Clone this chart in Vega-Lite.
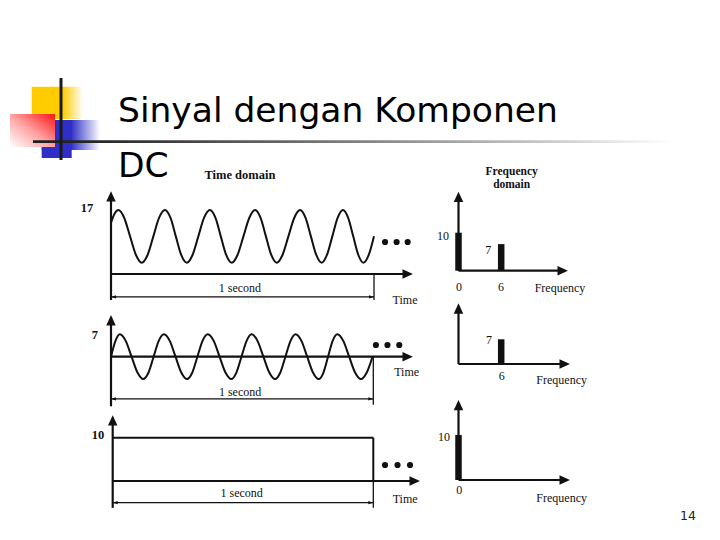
{
"$schema": "https://vega.github.io/schema/vega-lite/v6.json",
"width": 720, "height": 540, "autosize": "none", "padding": 0,
"background": "white",
"config": {"view": {"stroke": null}},
"resolve": {"scale": {"x": "independent", "y": "independent"}},
"layer": [
{
 "data": {"values": [{}]},
 "layer": [
  {"mark": {"type": "rect", "strokeWidth": 0, "fill": {"gradient": "linear", "x1": 0, "y1": 0, "x2": 1, "y2": 0, "stops": [{"offset": 0, "color": "#ffcc00"}, {"offset": 0.6, "color": "#ffcc00"}, {"offset": 1, "color": "#ffffff"}]}},
   "encoding": {"x": {"datum": 31.7, "type": "quantitative", "scale": {"domain": [0, 720], "range": [0, 720], "nice": false, "zero": false}, "axis": null}, "x2": {"datum": 83}, "y": {"datum": 86.7, "type": "quantitative", "scale": {"domain": [0, 540], "range": [0, 540], "nice": false, "zero": false}, "axis": null}, "y2": {"datum": 119}}},
  {"mark": {"type": "rect", "strokeWidth": 0, "fill": {"gradient": "linear", "x1": 0, "y1": 0, "x2": 1, "y2": 0, "stops": [{"offset": 0, "color": "#2f2fc8"}, {"offset": 0.5, "color": "#2f2fc8"}, {"offset": 1, "color": "#ffffff"}]}},
   "encoding": {"x": {"datum": 41.7, "type": "quantitative", "scale": {"domain": [0, 720], "range": [0, 720], "nice": false, "zero": false}, "axis": null}, "x2": {"datum": 100}, "y": {"datum": 120, "type": "quantitative", "scale": {"domain": [0, 540], "range": [0, 540], "nice": false, "zero": false}, "axis": null}, "y2": {"datum": 150}}},
  {"mark": {"type": "rect", "strokeWidth": 0, "fill": "#2f2fc8"},
   "encoding": {"x": {"datum": 41.7, "type": "quantitative", "scale": {"domain": [0, 720], "range": [0, 720], "nice": false, "zero": false}, "axis": null}, "x2": {"datum": 71.7}, "y": {"datum": 120, "type": "quantitative", "scale": {"domain": [0, 540], "range": [0, 540], "nice": false, "zero": false}, "axis": null}, "y2": {"datum": 158}}},
  {"mark": {"type": "rect", "strokeWidth": 0, "fill": {"gradient": "linear", "x1": 1, "y1": 0, "x2": 0, "y2": 1, "stops": [{"offset": 0, "color": "#ff1414"}, {"offset": 0.5, "color": "#ffa0a0"}, {"offset": 1, "color": "#ffffff"}]}},
   "encoding": {"x": {"datum": 10, "type": "quantitative", "scale": {"domain": [0, 720], "range": [0, 720], "nice": false, "zero": false}, "axis": null}, "x2": {"datum": 55}, "y": {"datum": 114, "type": "quantitative", "scale": {"domain": [0, 540], "range": [0, 540], "nice": false, "zero": false}, "axis": null}, "y2": {"datum": 147}}},
  {"mark": {"type": "rect", "strokeWidth": 0, "fill": {"gradient": "linear", "x1": 0, "y1": 0, "x2": 1, "y2": 0, "stops": [{"offset": 0, "color": "#1e1e1e"}, {"offset": 0.12, "color": "#2a2a2a"}, {"offset": 0.55, "color": "#8a8a8a"}, {"offset": 0.8, "color": "#c8c8c8"}, {"offset": 1, "color": "#ffffff"}]}},
   "encoding": {"x": {"datum": 33, "type": "quantitative", "scale": {"domain": [0, 720], "range": [0, 720], "nice": false, "zero": false}, "axis": null}, "x2": {"datum": 672}, "y": {"datum": 140.3, "type": "quantitative", "scale": {"domain": [0, 540], "range": [0, 540], "nice": false, "zero": false}, "axis": null}, "y2": {"datum": 143}}},
  {"mark": {"type": "rule", "color": "#1a1a1a", "strokeWidth": 3},
   "encoding": {"x": {"datum": 61, "type": "quantitative", "scale": {"domain": [0, 720], "range": [0, 720], "nice": false, "zero": false}, "axis": null}, "y": {"datum": 78, "type": "quantitative", "scale": {"domain": [0, 540], "range": [0, 540], "nice": false, "zero": false}, "axis": null}, "y2": {"datum": 160}}},
  {"mark": {"type": "text", "text": "Sinyal dengan Komponen", "font": "DejaVu Sans", "fontSize": 34.5, "align": "left", "baseline": "alphabetic", "color": "#000000"},
   "encoding": {"x": {"datum": 118, "type": "quantitative", "scale": {"domain": [0, 720], "range": [0, 720], "nice": false, "zero": false}, "axis": null}, "y": {"datum": 121.7, "type": "quantitative", "scale": {"domain": [0, 540], "range": [0, 540], "nice": false, "zero": false}, "axis": null}}},
  {"mark": {"type": "text", "text": "DC", "font": "DejaVu Sans", "fontSize": 34.5, "align": "left", "baseline": "alphabetic", "color": "#000000"},
   "encoding": {"x": {"datum": 118, "type": "quantitative", "scale": {"domain": [0, 720], "range": [0, 720], "nice": false, "zero": false}, "axis": null}, "y": {"datum": 176.7, "type": "quantitative", "scale": {"domain": [0, 540], "range": [0, 540], "nice": false, "zero": false}, "axis": null}}},
  {"mark": {"type": "text", "text": "14", "font": "DejaVu Sans", "fontSize": 12.5, "align": "center", "baseline": "middle", "color": "#222222"},
   "encoding": {"x": {"datum": 688, "type": "quantitative", "scale": {"domain": [0, 720], "range": [0, 720], "nice": false, "zero": false}, "axis": null}, "y": {"datum": 516, "type": "quantitative", "scale": {"domain": [0, 540], "range": [0, 540], "nice": false, "zero": false}, "axis": null}}}
 ]
},
{
 "encoding": {
  "x": {"field": "t", "type": "quantitative", "scale": {"domain": [0, 1], "range": [111, 374], "nice": false, "zero": false}, "axis": null},
  "y": {"field": "v", "type": "quantitative", "scale": {"domain": [0, 17], "range": [274, 210], "nice": false, "zero": false}, "axis": null}
 },
 "layer": [
  {"data": {"values": [
   {"t": 0, "v": 13.6}, {"t": 0.014, "v": 16.1}, {"t": 0.028, "v": 17},
   {"t": 0.05, "v": 14.95}, {"t": 0.0725, "v": 10}, {"t": 0.095, "v": 5.05}, {"t": 0.117, "v": 3},
   {"t": 0.139, "v": 5.05}, {"t": 0.161, "v": 10}, {"t": 0.183, "v": 14.95}, {"t": 0.205, "v": 17},
   {"t": 0.226, "v": 14.95}, {"t": 0.2465, "v": 10}, {"t": 0.267, "v": 5.05}, {"t": 0.288, "v": 3},
   {"t": 0.31, "v": 5.05}, {"t": 0.332, "v": 10}, {"t": 0.354, "v": 14.95}, {"t": 0.376, "v": 17},
   {"t": 0.397, "v": 14.95}, {"t": 0.4175, "v": 10}, {"t": 0.438, "v": 5.05}, {"t": 0.459, "v": 3},
   {"t": 0.481, "v": 5.05}, {"t": 0.5035, "v": 10}, {"t": 0.526, "v": 14.95}, {"t": 0.548, "v": 17},
   {"t": 0.5685, "v": 14.95}, {"t": 0.589, "v": 10}, {"t": 0.6095, "v": 5.05}, {"t": 0.63, "v": 3},
   {"t": 0.652, "v": 5.05}, {"t": 0.6745, "v": 10}, {"t": 0.697, "v": 14.95}, {"t": 0.719, "v": 17},
   {"t": 0.7395, "v": 14.95}, {"t": 0.76, "v": 10}, {"t": 0.7805, "v": 5.05}, {"t": 0.801, "v": 3},
   {"t": 0.821, "v": 5.05}, {"t": 0.8415, "v": 10}, {"t": 0.862, "v": 14.95}, {"t": 0.882, "v": 17},
   {"t": 0.9015, "v": 14.95}, {"t": 0.921, "v": 10}, {"t": 0.9405, "v": 5.05}, {"t": 0.96, "v": 3},
   {"t": 0.98, "v": 5.05}, {"t": 1.0, "v": 10}]},
   "mark": {"type": "line", "interpolate": "monotone", "color": "#111111", "strokeWidth": 2}},
  {"data": {"values": [{"t": 0, "v": -6.9, "t2": 0, "v2": 20.7}, {"t": 0, "v": 0, "t2": 1.125, "v2": 0}]},
   "mark": {"type": "rule", "color": "#111111", "strokeWidth": 2.2}, "encoding": {"x2": {"field": "t2"}, "y2": {"field": "v2"}}},
  {"data": {"values": [{"t": 0, "v": -6.1, "t2": 1, "v2": -6.1}, {"t": 1, "v": 0, "t2": 1, "v2": -6.9}]},
   "mark": {"type": "rule", "color": "#111111", "strokeWidth": 1.3}, "encoding": {"x2": {"field": "t2"}, "y2": {"field": "v2"}}},
  {"data": {"values": [{"t": 0, "v": 22}]}, "mark": {"type": "point", "shape": "M0,0L-1,2.2L1,2.2Z", "size": 90, "filled": true, "opacity": 1, "color": "#111111", "strokeWidth": 0}},
  {"data": {"values": [{"t": 1.148, "v": 0}]}, "mark": {"type": "point", "shape": "M0,0L-2.2,-1L-2.2,1Z", "size": 90, "filled": true, "opacity": 1, "color": "#111111", "strokeWidth": 0}},
  {"data": {"values": [{"t": 1, "v": -6.1}]}, "mark": {"type": "point", "shape": "M0,0L-2.5,-0.8L-2.5,0.8Z", "size": 16, "filled": true, "opacity": 1, "color": "#111111", "strokeWidth": 0}},
  {"data": {"values": [{"t": 0, "v": -6.1}]}, "mark": {"type": "point", "shape": "M0,0L2.5,-0.8L2.5,0.8Z", "size": 16, "filled": true, "opacity": 1, "color": "#111111", "strokeWidth": 0}},
  {"data": {"values": [{"t": 1.042, "v": 8.5}, {"t": 1.086, "v": 8.5}, {"t": 1.128, "v": 8.5}]}, "mark": {"type": "point", "shape": "circle", "size": 38, "filled": true, "opacity": 1, "color": "#111111", "strokeWidth": 0}},
  {"data": {"values": [{"t": -0.091, "v": 17.5, "label": "17"}, {"t": 0.49, "v": 26.3, "label": "Time domain"}]},
   "mark": {"type": "text", "font": "Liberation Serif", "fontSize": 12.5, "fontWeight": "bold", "color": "#111111", "align": "center", "baseline": "middle"}, "encoding": {"text": {"field": "label"}}},
  {"data": {"values": [{"t": 0.49, "v": -3.7, "label": "1 second"}, {"t": 1.118, "v": -6.9, "label": "Time"}]},
   "mark": {"type": "text", "font": "Liberation Serif", "fontSize": 12, "color": "#111111", "align": "center", "baseline": "middle"}, "encoding": {"text": {"field": "label"}}}
 ]
},
{
 "encoding": {
  "x": {"field": "t", "type": "quantitative", "scale": {"domain": [0, 1], "range": [111, 373.3], "nice": false, "zero": false}, "axis": null},
  "y": {"field": "v", "type": "quantitative", "scale": {"domain": [0, 7], "range": [356.7, 334.3], "nice": false, "zero": false}, "axis": null}
 },
 "layer": [
  {"data": {"values": [
   {"t": 0, "v": 0}, {"t": 0.017, "v": 4.95}, {"t": 0.034, "v": 7},
   {"t": 0.056, "v": 4.95}, {"t": 0.0785, "v": 0}, {"t": 0.101, "v": -4.95}, {"t": 0.123, "v": -7},
   {"t": 0.143, "v": -4.95}, {"t": 0.1625, "v": 0}, {"t": 0.182, "v": 4.95}, {"t": 0.202, "v": 7},
   {"t": 0.224, "v": 4.95}, {"t": 0.246, "v": 0}, {"t": 0.268, "v": -4.95}, {"t": 0.29, "v": -7},
   {"t": 0.31, "v": -4.95}, {"t": 0.3295, "v": 0}, {"t": 0.349, "v": 4.95}, {"t": 0.369, "v": 7},
   {"t": 0.3915, "v": 4.95}, {"t": 0.414, "v": 0}, {"t": 0.4365, "v": -4.95}, {"t": 0.459, "v": -7},
   {"t": 0.478, "v": -4.95}, {"t": 0.4975, "v": 0}, {"t": 0.517, "v": 4.95}, {"t": 0.536, "v": 7},
   {"t": 0.5585, "v": 4.95}, {"t": 0.581, "v": 0}, {"t": 0.6035, "v": -4.95}, {"t": 0.626, "v": -7},
   {"t": 0.6455, "v": -4.95}, {"t": 0.665, "v": 0}, {"t": 0.6845, "v": 4.95}, {"t": 0.704, "v": 7},
   {"t": 0.726, "v": 4.95}, {"t": 0.748, "v": 0}, {"t": 0.77, "v": -4.95}, {"t": 0.792, "v": -7},
   {"t": 0.81, "v": -4.95}, {"t": 0.8275, "v": 0}, {"t": 0.845, "v": 4.95}, {"t": 0.863, "v": 7},
   {"t": 0.8855, "v": 4.95}, {"t": 0.908, "v": 0}, {"t": 0.9305, "v": -4.95}, {"t": 0.953, "v": -7},
   {"t": 0.975, "v": -4.95}, {"t": 0.997, "v": 0}]},
   "mark": {"type": "line", "interpolate": "monotone", "color": "#111111", "strokeWidth": 2}},
  {"data": {"values": [{"t": 0, "v": -15.5, "t2": 0, "v2": 11.4}, {"t": 0, "v": 0, "t2": 1.128, "v2": 0}]},
   "mark": {"type": "rule", "color": "#111111", "strokeWidth": 2.2}, "encoding": {"x2": {"field": "t2"}, "y2": {"field": "v2"}}},
  {"data": {"values": [{"t": 0, "v": -13.2, "t2": 1, "v2": -13.2}, {"t": 1, "v": 0, "t2": 1, "v2": -15}]},
   "mark": {"type": "rule", "color": "#111111", "strokeWidth": 1.3}, "encoding": {"x2": {"field": "t2"}, "y2": {"field": "v2"}}},
  {"data": {"values": [{"t": 0, "v": 13.0}]}, "mark": {"type": "point", "shape": "M0,0L-1,2.2L1,2.2Z", "size": 90, "filled": true, "opacity": 1, "color": "#111111", "strokeWidth": 0}},
  {"data": {"values": [{"t": 1.151, "v": 0}]}, "mark": {"type": "point", "shape": "M0,0L-2.2,-1L-2.2,1Z", "size": 90, "filled": true, "opacity": 1, "color": "#111111", "strokeWidth": 0}},
  {"data": {"values": [{"t": 1, "v": -13.2}]}, "mark": {"type": "point", "shape": "M0,0L-2.5,-0.8L-2.5,0.8Z", "size": 16, "filled": true, "opacity": 1, "color": "#111111", "strokeWidth": 0}},
  {"data": {"values": [{"t": 0, "v": -13.2}]}, "mark": {"type": "point", "shape": "M0,0L2.5,-0.8L2.5,0.8Z", "size": 16, "filled": true, "opacity": 1, "color": "#111111", "strokeWidth": 0}},
  {"data": {"values": [{"t": 1.01, "v": 3.66}, {"t": 1.054, "v": 3.66}, {"t": 1.099, "v": 3.66}]}, "mark": {"type": "point", "shape": "circle", "size": 38, "filled": true, "opacity": 1, "color": "#111111", "strokeWidth": 0}},
  {"data": {"values": [{"t": -0.061, "v": 6.8, "label": "7"}]},
   "mark": {"type": "text", "font": "Liberation Serif", "fontSize": 12.5, "fontWeight": "bold", "color": "#111111", "align": "center", "baseline": "middle"}, "encoding": {"text": {"field": "label"}}},
  {"data": {"values": [{"t": 0.492, "v": -11.1, "label": "1 second"}, {"t": 1.127, "v": -4.7, "label": "Time"}]},
   "mark": {"type": "text", "font": "Liberation Serif", "fontSize": 12, "color": "#111111", "align": "center", "baseline": "middle"}, "encoding": {"text": {"field": "label"}}}
 ]
},
{
 "encoding": {
  "x": {"field": "t", "type": "quantitative", "scale": {"domain": [0, 1], "range": [112.7, 373.3], "nice": false, "zero": false}, "axis": null},
  "y": {"field": "v", "type": "quantitative", "scale": {"domain": [0, 10], "range": [481, 437.7], "nice": false, "zero": false}, "axis": null}
 },
 "layer": [
  {"data": {"values": [{"t": 0, "v": 10, "t2": 1, "v2": 10}, {"t": 1, "v": 10, "t2": 1, "v2": 0}]},
   "mark": {"type": "rule", "color": "#111111", "strokeWidth": 2}, "encoding": {"x2": {"field": "t2"}, "y2": {"field": "v2"}}},
  {"data": {"values": [{"t": 0, "v": -6.2, "t2": 0, "v2": 14.0}, {"t": 0, "v": 0, "t2": 1.155, "v2": 0}]},
   "mark": {"type": "rule", "color": "#111111", "strokeWidth": 2.2}, "encoding": {"x2": {"field": "t2"}, "y2": {"field": "v2"}}},
  {"data": {"values": [{"t": 0, "v": -5, "t2": 1, "v2": -5}, {"t": 1, "v": 0, "t2": 1, "v2": -6.2}]},
   "mark": {"type": "rule", "color": "#111111", "strokeWidth": 1.3}, "encoding": {"x2": {"field": "t2"}, "y2": {"field": "v2"}}},
  {"data": {"values": [{"t": 0, "v": 15.2}]}, "mark": {"type": "point", "shape": "M0,0L-1,2.2L1,2.2Z", "size": 90, "filled": true, "opacity": 1, "color": "#111111", "strokeWidth": 0}},
  {"data": {"values": [{"t": 1.179, "v": 0}]}, "mark": {"type": "point", "shape": "M0,0L-2.2,-1L-2.2,1Z", "size": 90, "filled": true, "opacity": 1, "color": "#111111", "strokeWidth": 0}},
  {"data": {"values": [{"t": 1, "v": -5}]}, "mark": {"type": "point", "shape": "M0,0L-2.5,-0.8L-2.5,0.8Z", "size": 16, "filled": true, "opacity": 1, "color": "#111111", "strokeWidth": 0}},
  {"data": {"values": [{"t": 0, "v": -5}]}, "mark": {"type": "point", "shape": "M0,0L2.5,-0.8L2.5,0.8Z", "size": 16, "filled": true, "opacity": 1, "color": "#111111", "strokeWidth": 0}},
  {"data": {"values": [{"t": 1.045, "v": 3.7}, {"t": 1.093, "v": 3.7}, {"t": 1.141, "v": 3.7}]}, "mark": {"type": "point", "shape": "circle", "size": 38, "filled": true, "opacity": 1, "color": "#111111", "strokeWidth": 0}},
  {"data": {"values": [{"t": -0.056, "v": 10.6, "label": "10"}]},
   "mark": {"type": "text", "font": "Liberation Serif", "fontSize": 12.5, "fontWeight": "bold", "color": "#111111", "align": "center", "baseline": "middle"}, "encoding": {"text": {"field": "label"}}},
  {"data": {"values": [{"t": 0.495, "v": -2.7, "label": "1 second"}, {"t": 1.122, "v": -4.2, "label": "Time"}]},
   "mark": {"type": "text", "font": "Liberation Serif", "fontSize": 12, "color": "#111111", "align": "center", "baseline": "middle"}, "encoding": {"text": {"field": "label"}}}
 ]
},
{
 "encoding": {
  "x": {"field": "f", "type": "quantitative", "scale": {"domain": [0, 6], "range": [458.5, 501.2], "nice": false, "zero": false}, "axis": null},
  "y": {"field": "a", "type": "quantitative", "scale": {"domain": [0, 10], "range": [270.7, 232.7], "nice": false, "zero": false}, "axis": null}
 },
 "layer": [
  {"data": {"values": [{"f": 0, "a": 0, "f2": 0, "a2": 10}, {"f": 6, "a": 0, "f2": 6, "a2": 7}]},
   "mark": {"type": "rule", "color": "#111111", "strokeWidth": 6.5}, "encoding": {"x2": {"field": "f2"}, "y2": {"field": "a2"}}},
  {"data": {"values": [{"f": 0, "a": 0, "f2": 0, "a2": 19.5}, {"f": 0, "a": 0, "f2": 14.6, "a2": 0}]},
   "mark": {"type": "rule", "color": "#111111", "strokeWidth": 2.2}, "encoding": {"x2": {"field": "f2"}, "y2": {"field": "a2"}}},
  {"data": {"values": [{"f": 0, "a": 20.8}]}, "mark": {"type": "point", "shape": "M0,0L-1,2.2L1,2.2Z", "size": 90, "filled": true, "opacity": 1, "color": "#111111", "strokeWidth": 0}},
  {"data": {"values": [{"f": 15.38, "a": 0}]}, "mark": {"type": "point", "shape": "M0,0L-2.2,-1L-2.2,1Z", "size": 90, "filled": true, "opacity": 1, "color": "#111111", "strokeWidth": 0}},
  {"data": {"values": [{"f": 7.47, "a": 26.1, "label": "Frequency"}, {"f": 7.47, "a": 22.5, "label": "domain"}]},
   "mark": {"type": "text", "font": "Liberation Serif", "fontSize": 11.5, "fontWeight": "bold", "color": "#111111", "align": "center", "baseline": "middle"}, "encoding": {"text": {"field": "label"}}},
  {"data": {"values": [{"f": -2.18, "a": 9.1, "label": "10"}, {"f": 4.19, "a": 5.4, "label": "7"}, {"f": 0.07, "a": -4.2, "label": "0"}, {"f": 5.97, "a": -4.2, "label": "6"}, {"f": 14.26, "a": -4.55, "label": "Frequency"}]},
   "mark": {"type": "text", "font": "Liberation Serif", "fontSize": 12, "color": "#111111", "align": "center", "baseline": "middle"}, "encoding": {"text": {"field": "label"}}}
 ]
},
{
 "encoding": {
  "x": {"field": "f", "type": "quantitative", "scale": {"domain": [0, 6], "range": [458.5, 501.2], "nice": false, "zero": false}, "axis": null},
  "y": {"field": "a", "type": "quantitative", "scale": {"domain": [0, 7], "range": [364, 339.3], "nice": false, "zero": false}, "axis": null}
 },
 "layer": [
  {"data": {"values": [{"f": 6, "a": 0, "f2": 6, "a2": 7}]},
   "mark": {"type": "rule", "color": "#111111", "strokeWidth": 6.5}, "encoding": {"x2": {"field": "f2"}, "y2": {"field": "a2"}}},
  {"data": {"values": [{"f": 0, "a": 0, "f2": 0, "a2": 15.8}, {"f": 0, "a": 0, "f2": 14.9, "a2": 0}]},
   "mark": {"type": "rule", "color": "#111111", "strokeWidth": 2.2}, "encoding": {"x2": {"field": "f2"}, "y2": {"field": "a2"}}},
  {"data": {"values": [{"f": 0, "a": 17.2}]}, "mark": {"type": "point", "shape": "M0,0L-1,2.2L1,2.2Z", "size": 90, "filled": true, "opacity": 1, "color": "#111111", "strokeWidth": 0}},
  {"data": {"values": [{"f": 15.66, "a": 0}]}, "mark": {"type": "point", "shape": "M0,0L-2.2,-1L-2.2,1Z", "size": 90, "filled": true, "opacity": 1, "color": "#111111", "strokeWidth": 0}},
  {"data": {"values": [{"f": 4.28, "a": 6.8, "label": "7"}, {"f": 6.07, "a": -3.4, "label": "6"}, {"f": 14.5, "a": -4.5, "label": "Frequency"}]},
   "mark": {"type": "text", "font": "Liberation Serif", "fontSize": 12, "color": "#111111", "align": "center", "baseline": "middle"}, "encoding": {"text": {"field": "label"}}}
 ]
},
{
 "encoding": {
  "x": {"field": "f", "type": "quantitative", "scale": {"domain": [0, 6], "range": [458.5, 501.2], "nice": false, "zero": false}, "axis": null},
  "y": {"field": "a", "type": "quantitative", "scale": {"domain": [0, 10], "range": [480, 435], "nice": false, "zero": false}, "axis": null}
 },
 "layer": [
  {"data": {"values": [{"f": 0, "a": 0, "f2": 0, "a2": 10}]},
   "mark": {"type": "rule", "color": "#111111", "strokeWidth": 6.5}, "encoding": {"x2": {"field": "f2"}, "y2": {"field": "a2"}}},
  {"data": {"values": [{"f": 0, "a": 0, "f2": 0, "a2": 16.7}, {"f": 0, "a": 0, "f2": 14.9, "a2": 0}]},
   "mark": {"type": "rule", "color": "#111111", "strokeWidth": 2.2}, "encoding": {"x2": {"field": "f2"}, "y2": {"field": "a2"}}},
  {"data": {"values": [{"f": 0, "a": 17.8}]}, "mark": {"type": "point", "shape": "M0,0L-1,2.2L1,2.2Z", "size": 90, "filled": true, "opacity": 1, "color": "#111111", "strokeWidth": 0}},
  {"data": {"values": [{"f": 15.66, "a": 0}]}, "mark": {"type": "point", "shape": "M0,0L-2.2,-1L-2.2,1Z", "size": 90, "filled": true, "opacity": 1, "color": "#111111", "strokeWidth": 0}},
  {"data": {"values": [{"f": -2.04, "a": 9.5, "label": "10"}, {"f": 0.1, "a": -2.2, "label": "0"}, {"f": 14.5, "a": -4.0, "label": "Frequency"}]},
   "mark": {"type": "text", "font": "Liberation Serif", "fontSize": 12, "color": "#111111", "align": "center", "baseline": "middle"}, "encoding": {"text": {"field": "label"}}}
 ]
}
]
}
